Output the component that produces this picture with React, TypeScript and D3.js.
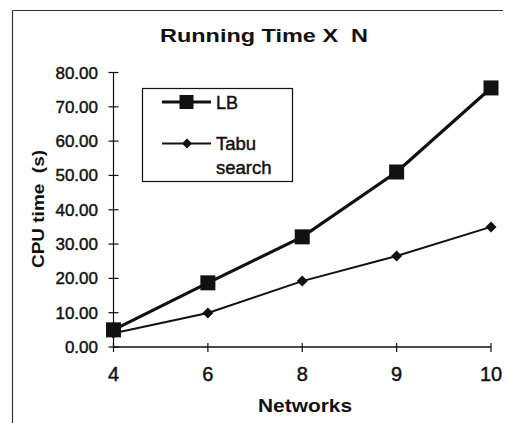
import React from "react";
import * as d3 from "d3";

// Number of networks on the x axis
const networks = ["4", "6", "8", "9", "10"];
// CPU time in seconds per series
const lbTimes = [5.0, 18.7, 32.1, 51.0, 75.5];
const tabuTimes = [4.0, 9.9, 19.2, 26.5, 35.0];
const yTicks = [0, 10, 20, 30, 40, 50, 60, 70, 80];

const W = 507;
const H = 423;
const plot = { left: 113.5, right: 491, top: 72.5, bottom: 347 };
const ink = "#111";
const font = "'Liberation Sans', Arial, sans-serif";
// slight outline thickens the regular-weight labels
const heavy = { stroke: ink, strokeWidth: 0.45 };

export default function App() {
  const x = d3
    .scalePoint<string>()
    .domain(networks)
    .range([plot.left, plot.right]);
  const y = d3.scaleLinear().domain([0, 80]).range([plot.bottom, plot.top]);

  const line = d3
    .line<number>()
    .x((_, i) => x(networks[i]) as number)
    .y((d) => y(d));

  const sq = 15;
  const dm = 5.5;
  const diamond = (cx: number, cy: number, r: number) =>
    `M${cx},${cy - r}L${cx + r},${cy}L${cx},${cy + r}L${cx - r},${cy}Z`;

  return (
    <svg
      width={W}
      height={H}
      style={{ position: "absolute", left: 0, top: 0, background: "#fff" }}
      fontFamily={font}
    >
      <rect x={0} y={0} width={W} height={H} fill="#fff" />
      {/* outer frame (left and top edges) */}
      <line x1={12.5} y1={10.5} x2={12.5} y2={H} stroke="#333" strokeWidth={1.2} />
      <line x1={12.5} y1={10.5} x2={503} y2={10.5} stroke="#333" strokeWidth={1.2} />

      <text
        x={264}
        y={42}
        textAnchor="middle"
        fontSize={18}
        fontWeight="bold"
        fill={ink}
        textLength={208}
        lengthAdjust="spacingAndGlyphs"
        style={{ whiteSpace: "pre" }}
      >
        {"Running Time X  N"}
      </text>

      {/* y axis */}
      <line x1={plot.left} y1={plot.top} x2={plot.left} y2={plot.bottom} stroke={ink} strokeWidth={1.2} />
      {yTicks.map((t) => (
        <g key={t}>
          <line x1={plot.left - 5} x2={plot.left + 5} y1={y(t)} y2={y(t)} stroke={ink} strokeWidth={1.2} />
          <text x={98} y={y(t) + 6} textAnchor="end" fontSize={17} fill={ink} {...heavy}>
            {t.toFixed(2)}
          </text>
        </g>
      ))}

      {/* x axis */}
      <line x1={plot.left} y1={plot.bottom} x2={plot.right} y2={plot.bottom} stroke={ink} strokeWidth={1.5} />
      {networks.map((n) => (
        <g key={n}>
          <line x1={x(n)} x2={x(n)} y1={plot.bottom - 4} y2={plot.bottom + 5} stroke={ink} strokeWidth={1.2} />
          <text x={x(n)} y={381} textAnchor="middle" fontSize={20} fill={ink} {...heavy}>
            {n}
          </text>
        </g>
      ))}

      <text
        transform={`translate(44,209) rotate(-90)`}
        textAnchor="middle"
        fontSize={16}
        fontWeight="bold"
        fill={ink}
        textLength={118}
        lengthAdjust="spacingAndGlyphs"
        style={{ whiteSpace: "pre" }}
      >
        {"CPU time  (s)"}
      </text>
      <text
        x={305}
        y={412}
        textAnchor="middle"
        fontSize={19}
        fontWeight="bold"
        fill={ink}
        textLength={94}
        lengthAdjust="spacingAndGlyphs"
      >
        Networks
      </text>

      {/* series */}
      <path d={line(tabuTimes) ?? ""} fill="none" stroke={ink} strokeWidth={2} />
      {tabuTimes.map((v, i) => (
        <path key={i} d={diamond(x(networks[i]) as number, y(v), dm)} fill={ink} />
      ))}
      <path d={line(lbTimes) ?? ""} fill="none" stroke={ink} strokeWidth={3.2} />
      {lbTimes.map((v, i) => (
        <rect
          key={i}
          x={(x(networks[i]) as number) - sq / 2}
          y={y(v) - sq / 2}
          width={sq}
          height={sq}
          fill={ink}
        />
      ))}

      {/* legend */}
      <rect x={142.5} y={88.5} width={150} height={93} fill="#fff" stroke={ink} strokeWidth={1.2} />
      <line x1={162} x2={211} y1={102} y2={102} stroke={ink} strokeWidth={3.2} />
      <rect x={186.5 - 7} y={102 - 7} width={14} height={14} fill={ink} />
      <text x={216} y={108.5} fontSize={18} fill={ink} {...heavy}>
        LB
      </text>
      <line x1={162} x2={211} y1={143.5} y2={143.5} stroke={ink} strokeWidth={2} />
      <path d={diamond(187, 143.5, 5)} fill={ink} />
      <text x={216} y={150} fontSize={18.5} fill={ink} {...heavy}>
        Tabu
      </text>
      <text x={216} y={174} fontSize={18.5} fill={ink} {...heavy}>
        search
      </text>
    </svg>
  );
}
